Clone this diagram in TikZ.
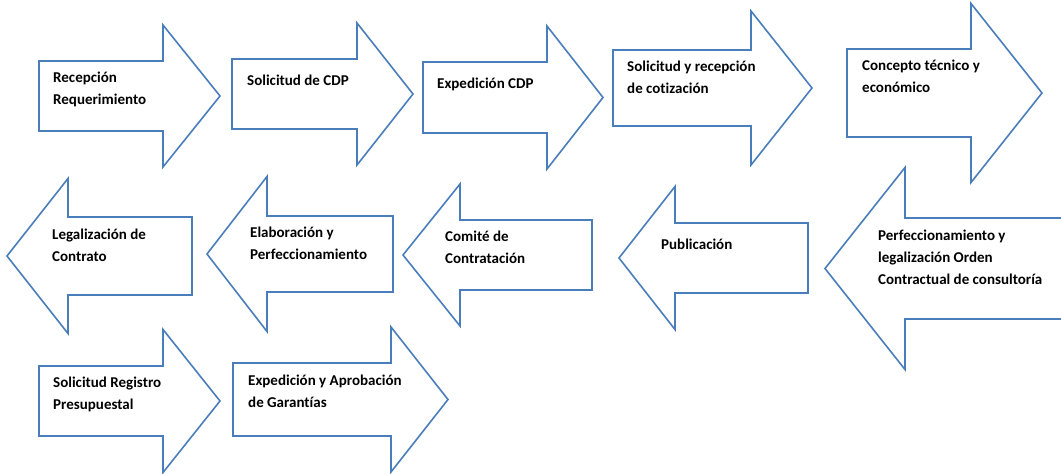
\documentclass[tikz,border=0pt]{standalone}
\usepackage{fontspec}
\setmainfont{Carlito}[Ligatures=CommonOff]
\definecolor{cborde}{HTML}{4A7EBB}
\tikzset{
  flecha/.style={draw=cborde, fill=white, line width=1.6pt, line join=miter},
  rotulo/.style={anchor=north west, inner sep=0pt, align=left, yshift=15.4pt,
                 font=\fontsize{15}{22}\selectfont\bfseries, execute at begin node=\strut},
}
% #1 x cola, #2 x base de la punta, #3 x punta, #4 y eje, #5 medio cuerpo, #6 media punta
\newcommand{\flechader}[6]{%
  \draw[flecha] (#1,#4-#5) -- (#2,#4-#5) -- (#2,#4-#6) -- (#3,#4) -- (#2,#4+#6) -- (#2,#4+#5) -- (#1,#4+#5) -- cycle;}
% #1 x punta, #2 x base de la punta, #3 x cola, #4 y eje, #5 medio cuerpo, #6 media punta
\newcommand{\flechaizq}[6]{%
  \draw[flecha] (#3,#4-#5) -- (#2,#4-#5) -- (#2,#4-#6) -- (#1,#4) -- (#2,#4+#6) -- (#2,#4+#5) -- (#3,#4+#5) -- cycle;}

\begin{document}
\begin{tikzpicture}[x=1pt, y=-1pt]
        \useasboundingbox (0,0) rectangle (1061,474);
        \clip (0,0) rectangle (1061,474);

        % fila 1
        \flechader{39}{163}{220}{96}{35}{71}
        \flechader{232}{357}{413}{94}{35}{71}
        \flechader{423}{547}{603}{97.5}{35.5}{71.5}
        \flechader{613}{751}{812}{88}{38}{77}
        \flechader{847}{971}{1042}{93}{44}{89.5}
        % fila 2
        \flechaizq{7}{68}{192}{256}{39}{77.5}
        \flechaizq{207}{267}{393}{254}{38}{77.5}
        \flechaizq{403}{460}{592}{255}{35}{71}
        \flechaizq{619}{675}{808}{258}{35}{71.5}
        \flechaizq{825}{905}{1075}{268.5}{50.5}{101}
        % fila 3
        \flechader{39}{163}{220}{401}{35}{71.5}
        \flechader{233}{391}{448}{399.5}{36.5}{72.5}

        \node[rotulo] (recep) at (53,87) {Recepción\\Requerimiento};
        \node[rotulo] (solcdp) at (247,85) {Solicitud de CDP};
        \node[rotulo] (expcdp) at (437,88) {Expedición CDP};
        \node[rotulo] (cotiz) at (627,76) {Solicitud y recepción\\de cotización};
        \node[rotulo] (concepto) at (862,75) {Concepto técnico y\\económico};
        \node[rotulo] (perfec) at (878,245) {Perfeccionamiento y\\legalización Orden\\Contractual de consultoría};
        \node[rotulo] (public) at (661,249) {Publicación};
        \node[rotulo] (comite) at (445,246) {Comité de\\Contratación};
        \node[rotulo] (elabor) at (250,242) {Elaboración y\\Perfeccionamiento};
        \node[rotulo] (legal) at (52,244) {Legalización de\\Contrato};
        \node[rotulo] (regpres) at (53,392) {Solicitud Registro\\Presupuestal};
        \node[rotulo] (garant) at (248,390) {Expedición y Aprobación\\de Garantías};
    \end{tikzpicture}
\end{document}
